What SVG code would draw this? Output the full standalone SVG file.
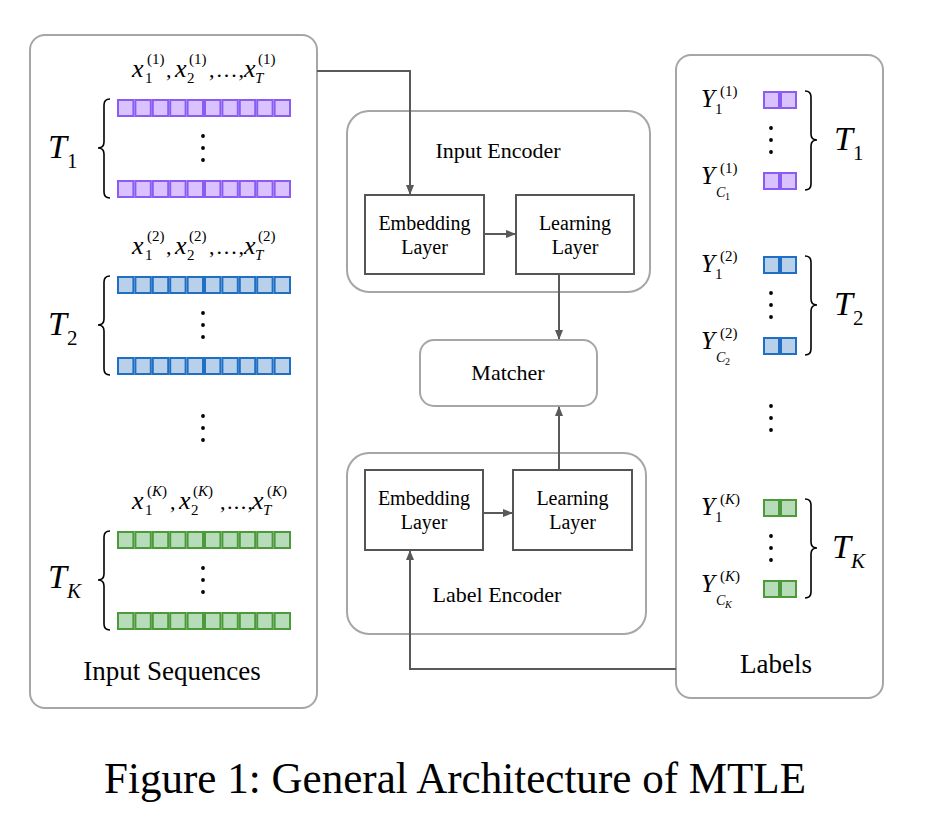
<svg xmlns="http://www.w3.org/2000/svg" xmlns:xlink="http://www.w3.org/1999/xlink" width="947" height="827" viewBox="0 0 947 827">
<style>
.panel{fill:#fff;stroke:#a6a6a6;stroke-width:2}
.enc{fill:#fff;stroke:#a6a6a6;stroke-width:2}
.box{fill:#fff;stroke:#555;stroke-width:2}
.t{font-family:"Liberation Serif","Times New Roman",serif;fill:#000}
.m{font-family:"Liberation Serif","Times New Roman",serif;font-style:italic;fill:#000}
.n{font-family:"Liberation Serif","Times New Roman",serif;font-style:normal;fill:#000}
.conn{fill:none;stroke:#595959;stroke-width:2}
.brace{fill:none;stroke:#000;stroke-width:1.6}
.purple{fill:#d9c2ff;stroke:#8a5cf6}
.blue{fill:#b8d0ea;stroke:#1f6fc5}
.green{fill:#b6dcb9;stroke:#4c9a3a}
</style>
<defs>
<marker id="ah" markerWidth="10" markerHeight="10" refX="9" refY="5" orient="auto" markerUnits="userSpaceOnUse">
<path d="M0,1 L10,5 L0,9 Z" fill="#595959"/>
</marker>
<g id="row10" stroke-width="2">
<rect x="118" y="0" width="15.4" height="16"/><rect x="135.4" y="0" width="15.4" height="16"/><rect x="152.8" y="0" width="15.4" height="16"/><rect x="170.2" y="0" width="15.4" height="16"/><rect x="187.6" y="0" width="15.4" height="16"/><rect x="205" y="0" width="15.4" height="16"/><rect x="222.4" y="0" width="15.4" height="16"/><rect x="239.8" y="0" width="15.4" height="16"/><rect x="257.2" y="0" width="15.4" height="16"/><rect x="274.6" y="0" width="15.4" height="16"/>
</g>
<g id="row2" stroke-width="2">
<rect x="764" y="0" width="15" height="16"/><rect x="781" y="0" width="15" height="16"/>
</g>
<g id="dots3" fill="#000">
<circle cx="0" cy="0" r="1.9"/><circle cx="0" cy="12" r="1.9"/><circle cx="0" cy="24" r="1.9"/>
</g>
</defs>

<g id="input-sequences">
<rect class="panel" x="30" y="35" width="287" height="673" rx="15"/>
<g id="seq-1">
<text class="m" font-size="26" x="132" y="77">x</text><text class="n" font-size="15" x="145" y="83">1</text><text class="n" font-size="15" x="147" y="64">(1)</text>
<text class="n" font-size="22" x="166" y="77">,</text>
<text class="m" font-size="26" x="175" y="77">x</text><text class="n" font-size="15" x="187" y="83">2</text><text class="n" font-size="15" x="189" y="64">(1)</text>
<text class="n" font-size="22" x="209" y="77" textLength="35" lengthAdjust="spacing">,...,</text>
<text class="m" font-size="26" x="244" y="77">x</text><text class="m" font-size="15" x="255" y="83">T</text><text class="n" font-size="15" x="258" y="64">(1)</text>
<use xlink:href="#row10" class="purple" transform="translate(0,100)"/>
<use xlink:href="#row10" class="purple" transform="translate(0,181)"/>
<use xlink:href="#dots3" transform="translate(203,136)"/>
<path class="brace" d="M110,99 Q104,99 104,105 L104,142 Q104,148 98,148 Q104,148 104,154 L104,192 Q104,198 110,198"/>
<text class="m" font-size="34" x="48" y="158">T</text><text class="n" font-size="21" x="67" y="168">1</text>
</g>
<g id="seq-2" transform="translate(0,177)">
<text class="m" font-size="26" x="132" y="77">x</text><text class="n" font-size="15" x="145" y="83">1</text><text class="n" font-size="15" x="147" y="64">(2)</text>
<text class="n" font-size="22" x="166" y="77">,</text>
<text class="m" font-size="26" x="175" y="77">x</text><text class="n" font-size="15" x="187" y="83">2</text><text class="n" font-size="15" x="189" y="64">(2)</text>
<text class="n" font-size="22" x="209" y="77" textLength="35" lengthAdjust="spacing">,...,</text>
<text class="m" font-size="26" x="244" y="77">x</text><text class="m" font-size="15" x="255" y="83">T</text><text class="n" font-size="15" x="258" y="64">(2)</text>
<use xlink:href="#row10" class="blue" transform="translate(0,100)"/>
<use xlink:href="#row10" class="blue" transform="translate(0,181)"/>
<use xlink:href="#dots3" transform="translate(203,136)"/>
<path class="brace" d="M110,99 Q104,99 104,105 L104,142 Q104,148 98,148 Q104,148 104,154 L104,192 Q104,198 110,198"/>
<text class="m" font-size="34" x="48" y="158">T</text><text class="n" font-size="21" x="67" y="168">2</text>
</g>
<use xlink:href="#dots3" transform="translate(203,416)"/>
<g id="seq-k" transform="translate(0,432)">
<text class="m" font-size="26" x="132" y="77">x</text><text class="n" font-size="15" x="145" y="83">1</text><text class="n" font-size="15" x="147" y="64">(<tspan class="m">K</tspan>)</text>
<text class="n" font-size="22" x="170" y="77">,</text>
<text class="m" font-size="26" x="179" y="77">x</text><text class="n" font-size="15" x="191" y="83">2</text><text class="n" font-size="15" x="193" y="64">(<tspan class="m">K</tspan>)</text>
<text class="n" font-size="22" x="220" y="77" textLength="33" lengthAdjust="spacing">,...,</text>
<text class="m" font-size="26" x="252" y="77">x</text><text class="m" font-size="15" x="263" y="83">T</text><text class="n" font-size="15" x="267" y="64">(<tspan class="m">K</tspan>)</text>
<use xlink:href="#row10" class="green" transform="translate(0,100)"/>
<use xlink:href="#row10" class="green" transform="translate(0,181)"/>
<use xlink:href="#dots3" transform="translate(203,136)"/>
<path class="brace" d="M110,99 Q104,99 104,105 L104,142 Q104,148 98,148 Q104,148 104,154 L104,192 Q104,198 110,198"/>
<text class="m" font-size="34" x="48" y="156">T</text><text class="m" font-size="21" x="67" y="166">K</text>
</g>
<text class="t" font-size="27" x="172" y="680" text-anchor="middle">Input Sequences</text>
</g>

<g id="labels">
<rect class="panel" x="676" y="55" width="207" height="643" rx="15"/>
<g id="lab-1">
<text class="m" font-size="25" x="701" y="107">Y</text><text class="n" font-size="15" x="715" y="114">1</text><text class="n" font-size="15" x="720" y="96">(1)</text>
<text class="m" font-size="25" x="701" y="184">Y</text><text class="n" font-size="15" x="720" y="173">(1)</text><text class="m" font-size="14" x="716" y="197">C</text><text class="n" font-size="10" x="725" y="200">1</text>
<use xlink:href="#row2" class="purple" transform="translate(0,92)"/>
<use xlink:href="#row2" class="purple" transform="translate(0,173)"/>
<use xlink:href="#dots3" transform="translate(771,128)"/>
<path class="brace" d="M805,91 Q811,91 811,97 L811,134 Q811,140 817,140 Q811,140 811,146 L811,184 Q811,190 805,190"/>
<text class="m" font-size="34" x="834" y="150">T</text><text class="n" font-size="21" x="853" y="160">1</text>
</g>
<g id="lab-2" transform="translate(0,165)">
<text class="m" font-size="25" x="701" y="107">Y</text><text class="n" font-size="15" x="715" y="114">1</text><text class="n" font-size="15" x="720" y="96">(2)</text>
<text class="m" font-size="25" x="701" y="184">Y</text><text class="n" font-size="15" x="720" y="173">(2)</text><text class="m" font-size="14" x="716" y="197">C</text><text class="n" font-size="10" x="725" y="200">2</text>
<use xlink:href="#row2" class="blue" transform="translate(0,92)"/>
<use xlink:href="#row2" class="blue" transform="translate(0,173)"/>
<use xlink:href="#dots3" transform="translate(771,128)"/>
<path class="brace" d="M805,91 Q811,91 811,97 L811,134 Q811,140 817,140 Q811,140 811,146 L811,184 Q811,190 805,190"/>
<text class="m" font-size="34" x="834" y="150">T</text><text class="n" font-size="21" x="853" y="160">2</text>
</g>
<use xlink:href="#dots3" transform="translate(771,406)"/>
<g id="lab-k" transform="translate(0,408)">
<text class="m" font-size="25" x="701" y="107">Y</text><text class="n" font-size="15" x="715" y="114">1</text><text class="n" font-size="15" x="720" y="96">(<tspan class="m">K</tspan>)</text>
<text class="m" font-size="25" x="701" y="184">Y</text><text class="n" font-size="15" x="720" y="173">(<tspan class="m">K</tspan>)</text><text class="m" font-size="14" x="716" y="197">C</text><text class="m" font-size="10" x="725" y="200">K</text>
<use xlink:href="#row2" class="green" transform="translate(0,92)"/>
<use xlink:href="#row2" class="green" transform="translate(0,173)"/>
<use xlink:href="#dots3" transform="translate(771,128)"/>
<path class="brace" d="M805,91 Q811,91 811,97 L811,134 Q811,140 817,140 Q811,140 811,146 L811,184 Q811,190 805,190"/>
<text class="m" font-size="34" x="832" y="150">T</text><text class="m" font-size="21" x="851" y="160">K</text>
</g>
<text class="t" font-size="27" x="776" y="673" text-anchor="middle">Labels</text>
</g>

<g id="input-encoder">
<rect class="enc" x="347" y="111" width="303" height="181" rx="22"/>
<text class="t" font-size="22" x="498" y="158" text-anchor="middle">Input Encoder</text>
</g>
<g id="ie-embedding">
<rect class="box" x="365" y="195" width="119" height="79"/>
<text class="t" font-size="20" x="424.5" y="230" text-anchor="middle">Embedding</text>
<text class="t" font-size="20" x="424.5" y="254" text-anchor="middle">Layer</text>
</g>
<g id="ie-learning">
<rect class="box" x="516" y="195" width="118" height="79"/>
<text class="t" font-size="20" x="575" y="230" text-anchor="middle">Learning</text>
<text class="t" font-size="20" x="575" y="254" text-anchor="middle">Layer</text>
</g>
<g id="matcher">
<rect class="enc" x="420" y="340" width="177" height="66" rx="14"/>
<text class="t" font-size="22" x="508" y="380" text-anchor="middle">Matcher</text>
</g>
<g id="label-encoder">
<rect class="enc" x="347" y="453" width="299" height="181" rx="22"/>
<text class="t" font-size="22" x="497" y="602" text-anchor="middle">Label Encoder</text>
</g>
<g id="le-embedding">
<rect class="box" x="365" y="470" width="118" height="80"/>
<text class="t" font-size="20" x="424" y="505" text-anchor="middle">Embedding</text>
<text class="t" font-size="20" x="424" y="529" text-anchor="middle">Layer</text>
</g>
<g id="le-learning">
<rect class="box" x="513" y="470" width="119" height="80"/>
<text class="t" font-size="20" x="572.5" y="505" text-anchor="middle">Learning</text>
<text class="t" font-size="20" x="572.5" y="529" text-anchor="middle">Layer</text>
</g>

<g id="connectors">
<path class="conn" d="M317,71 H410 V194" marker-end="url(#ah)"/>
<path class="conn" d="M484,234 H515" marker-end="url(#ah)"/>
<path class="conn" d="M559,274 V339" marker-end="url(#ah)"/>
<path class="conn" d="M559,470 V407" marker-end="url(#ah)"/>
<path class="conn" d="M483,513 H512" marker-end="url(#ah)"/>
<path class="conn" d="M676,669 H410 V551" marker-end="url(#ah)"/>
</g>

<text class="t" font-size="44" x="104" y="793" textLength="702" lengthAdjust="spacingAndGlyphs">Figure 1: General Architecture of MTLE</text>
</svg>
